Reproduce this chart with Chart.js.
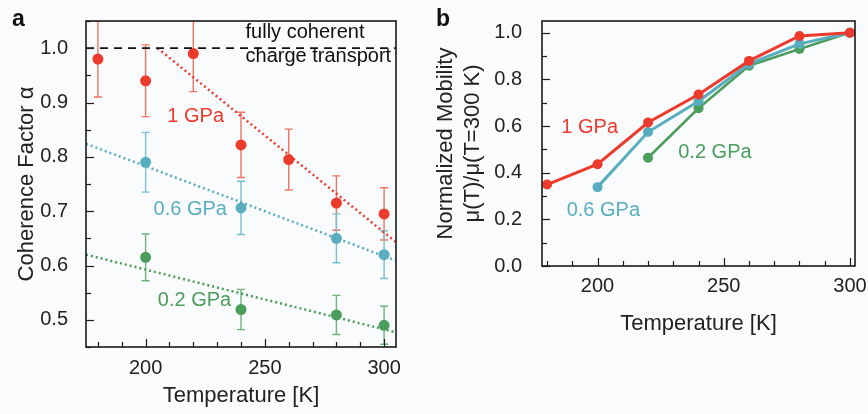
<!DOCTYPE html>
<html>
<head>
<meta charset="utf-8">
<script src="https://cdn.jsdelivr.net/npm/chart.js@4.4.0/dist/chart.umd.min.js"></script>
<style>
    html, body { margin: 0; padding: 0; background: #fafbfd; }
    #wrap { position: relative; width: 868px; height: 414px; }
    canvas { position: absolute; top: 0; }
    #chartA { left: 0; }
    #chartB { left: 430px; }
</style>
</head>
<body>
<div id="wrap">
    <canvas id="chartA" width="430" height="414" style="width:430px;height:414px"></canvas>
    <canvas id="chartB" width="438" height="414" style="width:438px;height:414px"></canvas>
</div>
<script>
// panel a: coherence factor vs temperature
const temps1 = [180, 200, 220, 240, 260, 280, 300];
const alpha1 = [0.98, 0.94, 0.99, 0.822, 0.795, 0.715, 0.695];
const alpha1Err = [0.07, 0.066, 0.07, 0.06, 0.056, 0.05, 0.048];

const tempsLow = [200, 240, 280, 300];
const alpha06 = [0.79, 0.706, 0.65, 0.62];
const alpha06Err = [0.055, 0.049, 0.045, 0.044];
const alpha02 = [0.615, 0.519, 0.509, 0.49];
const alpha02Err = [0.043, 0.037, 0.036, 0.035];

// dotted linear fits (end points)
const fit1X = [205, 305];
const fit1Y = [1.0, 0.643];
const fit06X = [175, 305];
const fit06Y = [0.824, 0.609];
const fit02X = [175, 305];
const fit02Y = [0.62, 0.477];
const coherentX = [175, 305];
const coherentY = [1.0, 1.0];

// panel b: normalized mobility
const mobT1 = [180, 200, 220, 240, 260, 280, 300];
const mob1 = [0.349, 0.436, 0.615, 0.735, 0.879, 0.986, 1.0];
const mobT06 = [200, 220, 240, 260, 280, 300];
const mob06 = [0.338, 0.574, 0.706, 0.866, 0.952, 1.0];
const mobT02 = [220, 240, 260, 280, 300];
const mob02 = [0.464, 0.676, 0.858, 0.930, 1.0];

// tick labels
const xMajor = [200, 250, 300];
const xMinor = [180, 190, 200, 210, 220, 230, 240, 250, 260, 270, 280, 290, 300];
const yMajorA = [0.5, 0.6, 0.7, 0.8, 0.9, 1.0];
const yMinorA = [0.45, 0.5, 0.55, 0.6, 0.65, 0.7, 0.75, 0.8, 0.85, 0.9, 0.95, 1.0, 1.05];
const yMajorB = [0.0, 0.2, 0.4, 0.6, 0.8, 1.0];
const yMinorB = [0.0, 0.1, 0.2, 0.3, 0.4, 0.5, 0.6, 0.7, 0.8, 0.9, 1.0];

const RED = '#ec3a2c', RED_ERR = '#f07462';
const CYAN = '#58adbf', CYAN_ERR = '#79bfcd';
const GREEN = '#4b9d5c', GREEN_ERR = '#6fb27c';
const FONT = '"Liberation Sans", Arial, sans-serif';
const INK = '#222222';

function pts(xs, ys) {
    return xs.map((x, i) => ({ x: x, y: ys[i] }));
}

// box frame + inward ticks
const frameTicks = {
    id: 'frameTicks',
    afterDraw(chart, args, opts) {
        const { ctx, chartArea: a, scales: { x, y } } = chart;
        ctx.save();
        ctx.strokeStyle = '#1a1a1a';
        ctx.lineWidth = 1.2;
        opts.xMinor.forEach(v => {
            const px = Math.round(x.getPixelForValue(v)) + 0.5;
            const len = opts.xMajor.includes(v) ? 8 : 5;
            ctx.beginPath();
            ctx.moveTo(px, a.bottom);
            ctx.lineTo(px, a.bottom - len);
            ctx.stroke();
        });
        opts.yMinor.forEach(v => {
            const py = Math.round(y.getPixelForValue(v)) + 0.5;
            const len = opts.yMajor.some(m => Math.abs(m - v) < 1e-6) ? 8 : 5;
            ctx.beginPath();
            ctx.moveTo(a.left, py);
            ctx.lineTo(a.left + len, py);
            ctx.stroke();
        });
        ctx.lineWidth = 1.6;
        ctx.strokeRect(a.left, a.top, a.right - a.left, a.bottom - a.top);
        // panel letter
        ctx.fillStyle = '#111';
        ctx.font = 'bold 23px ' + FONT;
        ctx.textBaseline = 'alphabetic';
        ctx.textAlign = 'left';
        ctx.fillText(opts.letter, opts.letterX, 26);
        ctx.restore();
    }
};

// error bars drawn under the points
const errorBars = {
    id: 'errorBars',
    beforeDatasetsDraw(chart) {
        const { ctx, chartArea: a, scales: { x, y } } = chart;
        ctx.save();
        ctx.beginPath();
        ctx.rect(a.left, a.top, a.right - a.left, a.bottom - a.top);
        ctx.clip();
        chart.data.datasets.forEach(ds => {
            if (!ds.errors) return;
            ctx.strokeStyle = ds.errColor;
            ctx.lineWidth = 1.4;
            ds.data.forEach((p, i) => {
                const px = x.getPixelForValue(p.x);
                const top = y.getPixelForValue(p.y + ds.errors[i]);
                const bot = y.getPixelForValue(p.y - ds.errors[i]);
                ctx.beginPath();
                ctx.moveTo(px, top); ctx.lineTo(px, bot);
                ctx.moveTo(px - 4, top); ctx.lineTo(px + 4, top);
                ctx.moveTo(px - 4, bot); ctx.lineTo(px + 4, bot);
                ctx.stroke();
            });
        });
        ctx.restore();
    }
};

// text labels placed in data coordinates
const textLabels = {
    id: 'textLabels',
    afterDatasetsDraw(chart, args, opts) {
        const { ctx, scales: { x, y } } = chart;
        ctx.save();
        ctx.font = '20px ' + FONT;
        ctx.textBaseline = 'middle';
        opts.items.forEach(t => {
            ctx.fillStyle = t.color;
            ctx.textAlign = t.align || 'center';
            ctx.fillText(t.text, x.getPixelForValue(t.x), y.getPixelForValue(t.y));
        });
        ctx.restore();
    }
};

function axisX(titlePad, ticksPad, height) {
    return {
        type: 'linear',
        min: 175,
        max: 305,
        afterBuildTicks: s => { s.ticks = xMajor.map(v => ({ value: v })); },
        afterFit: s => {
            s.height = height;
            // let the last label overhang instead of shrinking the plot
            s.paddingLeft = 0;
            s.paddingRight = 0;
        },
        grid: { display: false },
        border: { display: false },
        ticks: { color: INK, font: { family: FONT, size: 20 }, padding: ticksPad },
        title: { display: true, text: 'Temperature [K]', color: INK, font: { family: FONT, size: 22 }, padding: { top: 0, bottom: titlePad } }
    };
}

const chartA = new Chart(document.getElementById('chartA'), {
    type: 'scatter',
    data: {
        datasets: [
            { data: pts(coherentX, coherentY), showLine: true, borderColor: '#111', borderWidth: 1.6, borderDash: [8, 6], pointRadius: 0 },
            { data: pts(fit1X, fit1Y), showLine: true, borderColor: RED, borderWidth: 2.5, borderDash: [2, 3], pointRadius: 0 },
            { data: pts(fit06X, fit06Y), showLine: true, borderColor: CYAN, borderWidth: 2.5, borderDash: [2, 3], pointRadius: 0 },
            { data: pts(fit02X, fit02Y), showLine: true, borderColor: GREEN, borderWidth: 2.5, borderDash: [2, 3], pointRadius: 0 },
            { data: pts(temps1, alpha1), errors: alpha1Err, errColor: RED_ERR, backgroundColor: RED, borderColor: RED, pointRadius: 5.5, borderWidth: 0 },
            { data: pts(tempsLow, alpha06), errors: alpha06Err, errColor: CYAN_ERR, backgroundColor: CYAN, borderColor: CYAN, pointRadius: 5.5, borderWidth: 0 },
            { data: pts(tempsLow, alpha02), errors: alpha02Err, errColor: GREEN_ERR, backgroundColor: GREEN, borderColor: GREEN, pointRadius: 5.5, borderWidth: 0 }
        ]
    },
    options: {
        responsive: false,
        animation: false,
        layout: { padding: { top: 21, right: 34, left: 0, bottom: 0 } },
        plugins: {
            legend: { display: false },
            tooltip: { enabled: false },
            frameTicks: { xMajor: xMajor, xMinor: xMinor, yMajor: yMajorA, yMinor: yMinorA, letter: 'a', letterX: 12 },
            textLabels: {
                items: [
                    { text: 'fully coherent', x: 241.9, y: 1.028, color: '#111', align: 'left' },
                    { text: 'charge transport', x: 241.9, y: 0.984, color: '#111', align: 'left' },
                    { text: '1 GPa', x: 221, y: 0.874, color: RED },
                    { text: '0.6 GPa', x: 218.7, y: 0.703, color: CYAN },
                    { text: '0.2 GPa', x: 220.5, y: 0.535, color: GREEN }
                ]
            }
        },
        scales: {
            x: axisX(5, 1, 67),
            y: {
                type: 'linear',
                min: 0.45,
                max: 1.05,
                afterBuildTicks: s => { s.ticks = yMajorA.map(v => ({ value: v })); },
                afterFit: s => { s.width = 86; s.paddingTop = 0; s.paddingBottom = 0; },
                grid: { display: false },
                border: { display: false },
                ticks: { color: INK, font: { family: FONT, size: 20 }, padding: 10, callback: v => v.toFixed(1) },
                title: { display: true, text: 'Coherence Factor α', color: INK, font: { family: FONT, size: 22 }, padding: { top: 14, bottom: 0 } }
            }
        }
    },
    plugins: [errorBars, textLabels, frameTicks]
});

const xB = axisX(9, 0, 80);
xB.min = 178;
xB.max = 302;

const chartB = new Chart(document.getElementById('chartB'), {
    type: 'scatter',
    data: {
        datasets: [
            { data: pts(mobT1, mob1), showLine: true, borderColor: RED, backgroundColor: RED, borderWidth: 3, pointRadius: 5, pointBorderWidth: 0 },
            { data: pts(mobT06, mob06), showLine: true, borderColor: CYAN, backgroundColor: CYAN, borderWidth: 3, pointRadius: 5, pointBorderWidth: 0 },
            { data: pts(mobT02, mob02), showLine: true, borderColor: GREEN, backgroundColor: GREEN, borderWidth: 2.5, pointRadius: 5, pointBorderWidth: 0 }
        ]
    },
    options: {
        responsive: false,
        animation: false,
        layout: { padding: { top: 21, right: 13, left: 0, bottom: 68 } },
        plugins: {
            legend: { display: false },
            tooltip: { enabled: false },
            frameTicks: { xMajor: xMajor, xMinor: xMinor, yMajor: yMajorB, yMinor: yMinorB, letter: 'b', letterX: 6 },
            textLabels: {
                items: [
                    { text: '1 GPa', x: 196.9, y: 0.594, color: RED },
                    { text: '0.2 GPa', x: 246.5, y: 0.486, color: GREEN },
                    { text: '0.6 GPa', x: 202.3, y: 0.239, color: CYAN }
                ]
            }
        },
        scales: {
            x: xB,
            y: {
                type: 'linear',
                min: 0,
                max: 1.05,
                afterBuildTicks: s => { s.ticks = yMajorB.map(v => ({ value: v })); },
                afterFit: s => { s.width = 112; s.paddingTop = 0; s.paddingBottom = 0; },
                grid: { display: false },
                border: { display: false },
                ticks: { color: INK, font: { family: FONT, size: 20 }, padding: 12, callback: v => v.toFixed(1) },
                title: { display: true, text: ['Normalized Mobility', 'μ(T)/μ(T=300 K)'], color: INK, font: { family: FONT, size: 22 }, padding: { top: 3, bottom: 0 } }
            }
        }
    },
    plugins: [textLabels, frameTicks]
});
</script>
</body>
</html>
